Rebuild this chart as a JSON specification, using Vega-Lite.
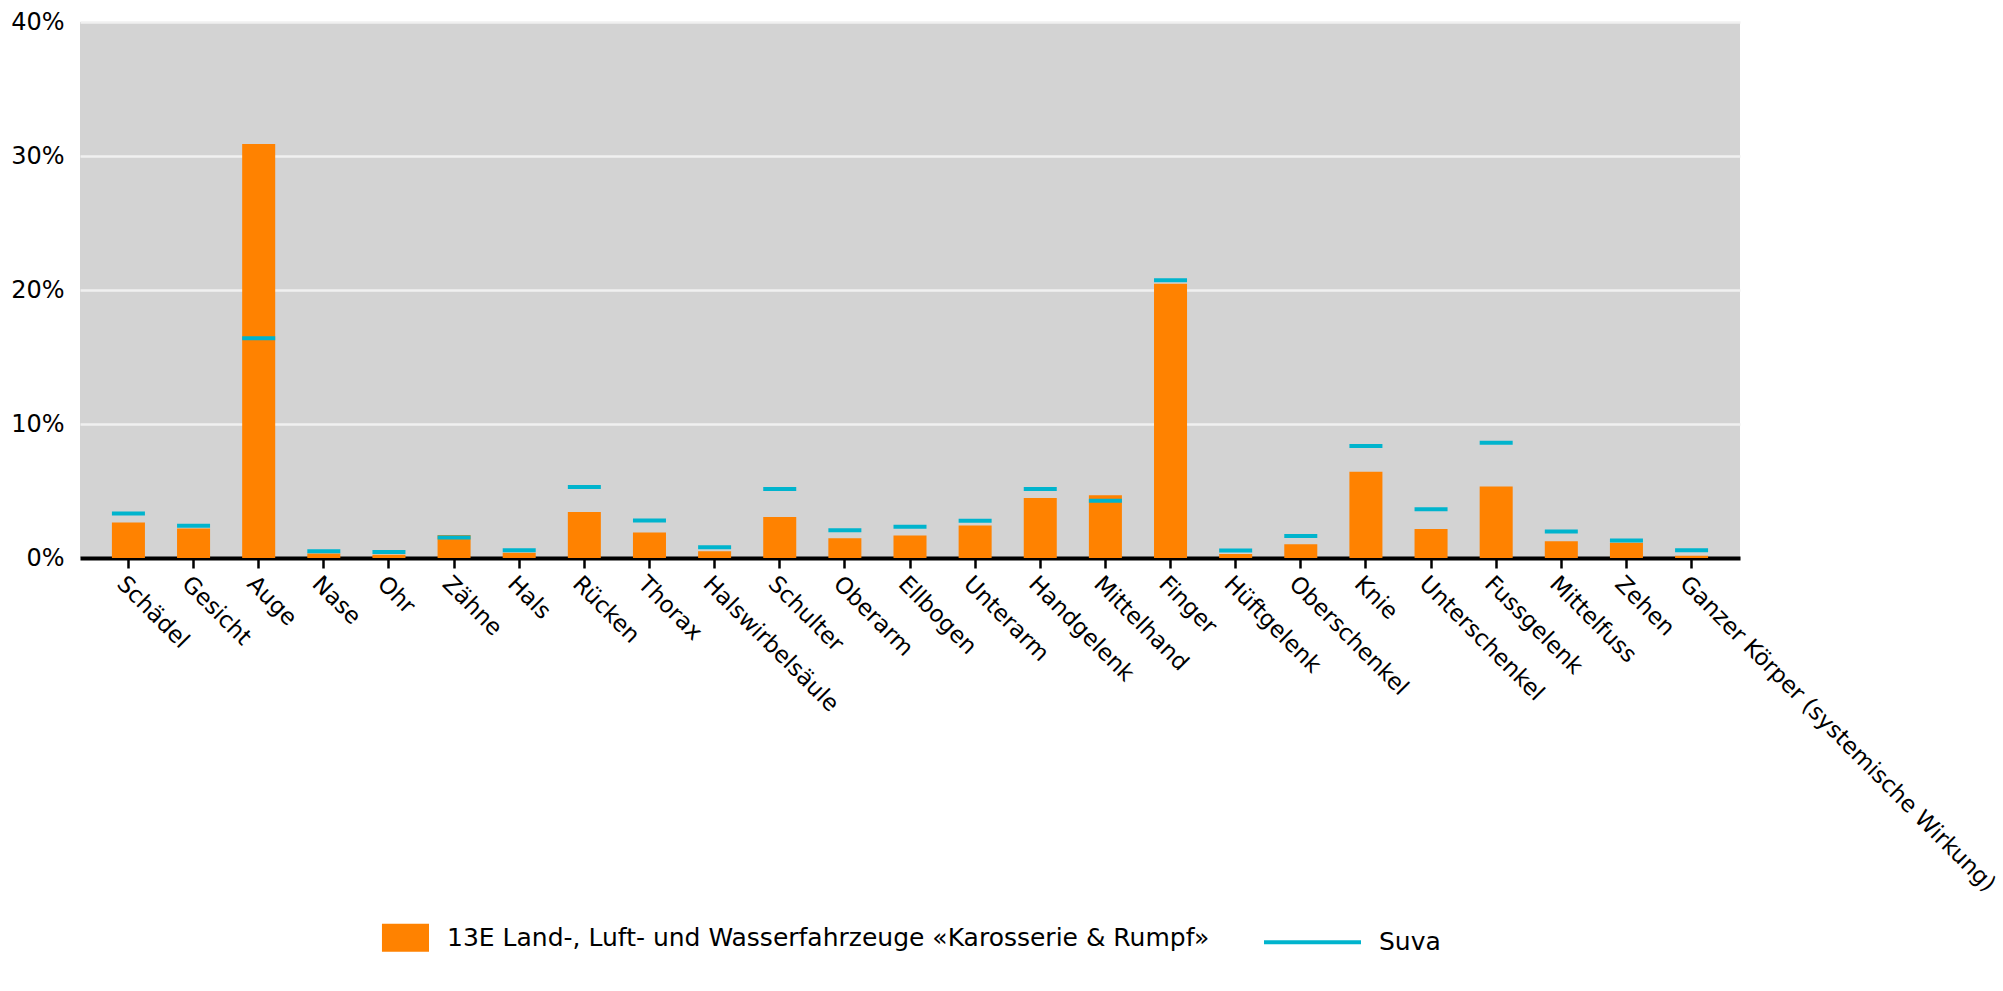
{
  "$schema": "https://vega.github.io/schema/vega-lite/v6.json",
  "autosize": "none",
  "width": 1660,
  "height": 536,
  "padding": {"left": 80, "top": 22, "right": 263, "bottom": 433},
  "background": "white",
  "config": {"view": {"fill": "#d3d3d3", "stroke": null}, "font": "DejaVu Sans"},
  "data": {"values": [
    {"part": "Schädel", "branche": 2.64, "suva": 3.33},
    {"part": "Gesicht", "branche": 2.2, "suva": 2.4},
    {"part": "Auge", "branche": 30.9, "suva": 16.4},
    {"part": "Nase", "branche": 0.33, "suva": 0.5},
    {"part": "Ohr", "branche": 0.25, "suva": 0.45},
    {"part": "Zähne", "branche": 1.72, "suva": 1.53},
    {"part": "Hals", "branche": 0.4, "suva": 0.58},
    {"part": "Rücken", "branche": 3.44, "suva": 5.3},
    {"part": "Thorax", "branche": 1.9, "suva": 2.8},
    {"part": "Halswirbelsäule", "branche": 0.5, "suva": 0.8},
    {"part": "Schulter", "branche": 3.06, "suva": 5.14},
    {"part": "Oberarm", "branche": 1.47, "suva": 2.08},
    {"part": "Ellbogen", "branche": 1.67, "suva": 2.33},
    {"part": "Unterarm", "branche": 2.42, "suva": 2.78},
    {"part": "Handgelenk", "branche": 4.47, "suva": 5.14},
    {"part": "Mittelhand", "branche": 4.69, "suva": 4.28},
    {"part": "Finger", "branche": 20.47, "suva": 20.72},
    {"part": "Hüftgelenk", "branche": 0.3, "suva": 0.56},
    {"part": "Oberschenkel", "branche": 1.03, "suva": 1.64},
    {"part": "Knie", "branche": 6.44, "suva": 8.36},
    {"part": "Unterschenkel", "branche": 2.17, "suva": 3.64},
    {"part": "Fussgelenk", "branche": 5.33, "suva": 8.61},
    {"part": "Mittelfuss", "branche": 1.25, "suva": 1.97},
    {"part": "Zehen", "branche": 1.14, "suva": 1.3},
    {"part": "Ganzer Körper (systemische Wirkung)", "branche": 0.17, "suva": 0.58}
  ]},
  "encoding": {
    "x": {
      "field": "part", "type": "nominal", "sort": null,
      "scale": {"paddingInner": 0.493, "paddingOuter": 0.49},
      "axis": {
        "title": null, "labelAngle": 45, "labelAlign": "left", "labelBaseline": "top",
        "labelFontSize": 23, "labelFont": "DejaVu Sans", "labelColor": "black", "labelLimit": 0,
        "labelPadding": 4, "domainColor": "black", "domainWidth": 4,
        "tickColor": "black", "tickWidth": 2.5, "tickSize": 10, "grid": false
      }
    }
  },
  "layer": [
    {
      "mark": {"type": "bar"},
      "encoding": {
        "y": {
          "field": "branche", "type": "quantitative",
          "scale": {"domain": [0, 40]},
          "axis": {
            "title": null, "values": [0, 10, 20, 30, 40], "labelExpr": "datum.value + '%'",
            "labelFontSize": 24, "labelFont": "DejaVu Sans", "labelColor": "black",
            "labelPadding": 16, "ticks": false, "domain": false,
            "grid": true, "gridColor": "#f0f0f0", "gridWidth": 2.5
          }
        },
        "color": {
          "datum": "13E Land-, Luft- und Wasserfahrzeuge «Karosserie & Rumpf»", "type": "nominal",
          "scale": {
            "domain": ["13E Land-, Luft- und Wasserfahrzeuge «Karosserie & Rumpf»", "Suva"],
            "range": ["#ff8200", "#00b4cd"]
          },
          "legend": {
            "orient": "none", "legendX": 250, "legendY": 865, "direction": "horizontal", "title": null,
            "symbolSize": 9409, "labelFontSize": 25, "labelFont": "DejaVu Sans", "labelColor": "black",
            "columnPadding": 46, "labelOffset": 16, "padding": 0, "labelLimit": 0,
            "encode": {"symbols": {"update": {
              "shape": {"signal": "datum.value === 'Suva' ? 'stroke' : 'M0.03,-0.29H1V0.29H0.03Z'"},
              "fill": {"signal": "datum.value === 'Suva' ? 'transparent' : '#ff8200'"},
              "stroke": {"signal": "datum.value === 'Suva' ? '#00b4cd' : 'transparent'"},
              "strokeWidth": {"value": 4},
              "opacity": {"value": 1}, "fillOpacity": {"value": 1}, "strokeOpacity": {"value": 1}
            }}}
          }
        }
      }
    },
    {
      "mark": {"type": "tick", "size": 33, "thickness": 4, "opacity": 1},
      "encoding": {
        "y": {"field": "suva", "type": "quantitative"},
        "color": {
          "datum": "Suva", "type": "nominal",
          "legend": {
            "orient": "none", "legendX": 250, "legendY": 865, "direction": "horizontal", "title": null,
            "symbolSize": 9409, "labelFontSize": 25, "labelFont": "DejaVu Sans", "labelColor": "black",
            "columnPadding": 46, "labelOffset": 16, "padding": 0, "labelLimit": 0,
            "encode": {"symbols": {"update": {
              "shape": {"signal": "datum.value === 'Suva' ? 'stroke' : 'M0.03,-0.29H1V0.29H0.03Z'"},
              "fill": {"signal": "datum.value === 'Suva' ? 'transparent' : '#ff8200'"},
              "stroke": {"signal": "datum.value === 'Suva' ? '#00b4cd' : 'transparent'"},
              "strokeWidth": {"value": 4},
              "opacity": {"value": 1}, "fillOpacity": {"value": 1}, "strokeOpacity": {"value": 1}
            }}}
          }
        }
      }
    }
  ]
}
